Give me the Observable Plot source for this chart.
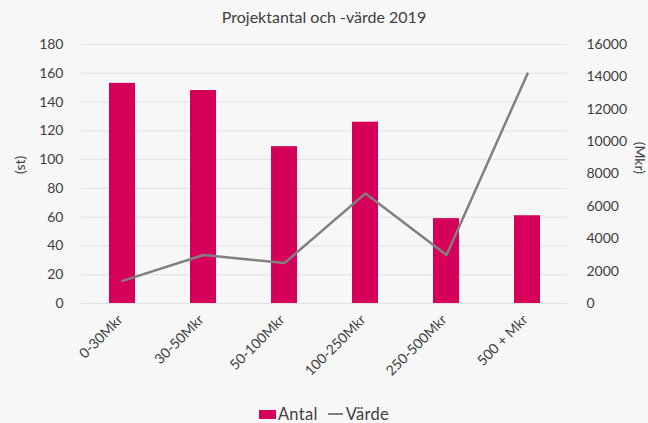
<!DOCTYPE html>
<html><head><meta charset="utf-8">
<script src="https://cdn.jsdelivr.net/npm/d3@7"></script>
<script src="https://cdn.jsdelivr.net/npm/@observablehq/plot@0.6"></script>
<style>
body{margin:0;background:#f7f7f7;font-family:Lato,"Open Sans",sans-serif;color:#404040;}
#wrap{width:648px;height:423px;position:relative;overflow:hidden;}
#title{height:30px;line-height:34px;text-align:center;font-size:16px;color:#404040;}
#legend{position:absolute;top:405px;left:0;width:648px;text-align:center;font-size:16.5px;line-height:18px;letter-spacing:0.3px;}
.sw{display:inline-block;width:17px;height:9px;background:#d6005a;vertical-align:1px;margin-right:2px;}
.ln{display:inline-block;width:15px;height:2px;background:#808080;vertical-align:5px;margin:0 3px 0 10px;}
</style></head>
<body><div id="wrap">
<div id="title">Projektantal och -värde 2019</div>
<div id="chart"></div>
<div id="legend"><span class="sw"></span>Antal<span class="ln"></span>Värde</div>
</div>
<script>
const categories = ["0-30Mkr","30-50Mkr","50-100Mkr","100-250Mkr","250-500Mkr","500 + Mkr"];
const antal = [153,148,109,126,59,61];
const varde = [1400,3000,2500,6800,3000,14200];
const leftTicks = [0,20,40,60,80,100,120,140,160,180];
const rightTicks = [0,2000,4000,6000,8000,10000,12000,14000,16000];
const k = 180/16000;
const rows = categories.map((c,i)=>({c, antal:antal[i], varde:varde[i], vs:varde[i]*k}));
const chart = Plot.plot({
  width:648, height:375,
  marginTop:14, marginBottom:102, marginLeft:81, marginRight:81,
  style:{background:"transparent", fontFamily:"Lato, 'Open Sans', sans-serif", fontSize:"14px", color:"#404040"},
  x:{domain:categories, paddingInner:0.68, paddingOuter:0.34, label:null},
  y:{domain:[0,180], label:null},
  marks:[
    Plot.gridY(leftTicks,{stroke:"#e2e2e2", strokeOpacity:1, strokeWidth:1}),
    Plot.barY(rows,{x:"c", y:"antal", fill:"#d6005a"}),
    Plot.line(rows,{x:"c", y:"vs", stroke:"#808080", strokeWidth:2.5}),
    Plot.axisY(leftTicks,{anchor:"left", tickSize:0, tickPadding:18, label:null, fill:"#404040"}),
    Plot.axisY(rightTicks.map(v=>v*k),{anchor:"right", tickSize:0, tickPadding:19, tickFormat:d=>String(Math.round(d/k)), label:null, fill:"#404040", textAnchor:"start"}),
    Plot.axisX({tickSize:0, tickRotate:-45, tickPadding:14, dx:-2, label:null, fill:"#404040"}),
    Plot.text(["(st)"],{frameAnchor:"left", dx:-61, rotate:-90, fill:"#404040"}),
    Plot.text(["(Mkr)"],{frameAnchor:"right", dx:72, dy:0, rotate:90, fill:"#404040"})
  ]
});
document.getElementById("chart").appendChild(chart);
</script>
</body></html>
